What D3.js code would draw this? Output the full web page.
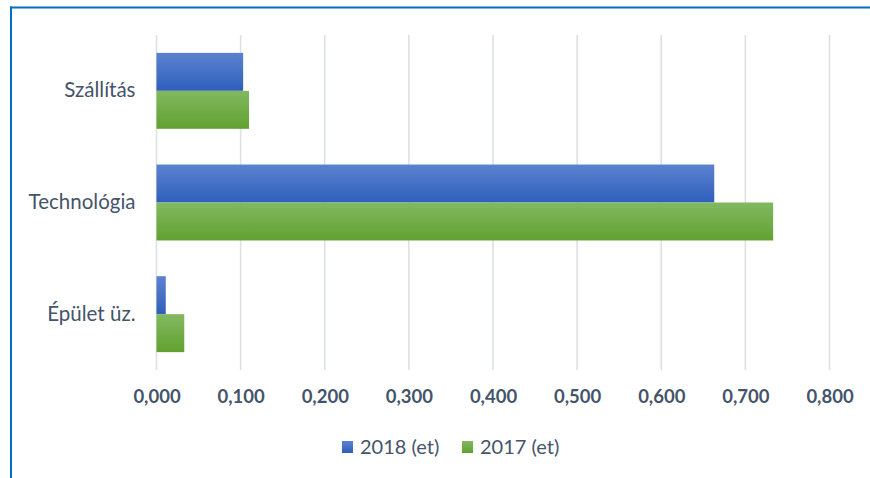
<!DOCTYPE html>
<html>
<head>
<meta charset="utf-8">
<script src="https://cdn.jsdelivr.net/npm/d3@7"></script>
<style>
  html, body { margin: 0; padding: 0; background: #fff; }
  svg { display: block; font-family: Lato, "Open Sans", sans-serif; }
</style>
</head>
<body>
<div id="chart"></div>
<script>
// data
const categories = ["Szállítás", "Technológia", "Épület üz."];
const seriesNames = ["2018 (et)", "2017 (et)"];
const values2018 = [0.103, 0.663, 0.011];
const values2017 = [0.110, 0.733, 0.033];
const tickValues = [0, 0.1, 0.2, 0.3, 0.4, 0.5, 0.6, 0.7, 0.8];

const width = 870, height = 478;
const margin = {top: 35, right: 40.5, bottom: 108, left: 156.5};
const textColor = "#44546a";

const svg = d3.select("#chart").append("svg")
    .attr("width", width).attr("height", height);

// gradients
const defs = svg.append("defs");
const grads = [
    {id: "gBlue", top: "#5b82cf", bottom: "#2f5fbc"},
    {id: "gGreen", top: "#82b961", bottom: "#61a130"}
];
grads.forEach(g => {
    const lg = defs.append("linearGradient").attr("id", g.id)
        .attr("x1", 0).attr("y1", 0).attr("x2", 0).attr("y2", 1);
    lg.append("stop").attr("offset", "0%").attr("stop-color", g.top);
    lg.append("stop").attr("offset", "100%").attr("stop-color", g.bottom);
});
const fills = ["url(#gBlue)", "url(#gGreen)"];

// frame (top + left blue border)
svg.append("line").attr("x1", 10).attr("x2", width).attr("y1", 7.5).attr("y2", 7.5)
    .attr("stroke", "#0070c0").attr("stroke-width", 2);
svg.append("line").attr("x1", 11).attr("x2", 11).attr("y1", 6.5).attr("y2", height)
    .attr("stroke", "#0070c0").attr("stroke-width", 2);

const x = d3.scaleLinear().domain([0, 0.8]).range([margin.left, width - margin.right]);
const y = d3.scaleBand().domain(categories)
    .range([margin.top, height - margin.bottom])
    .paddingInner(0.32).paddingOuter(0.16);
const ySub = d3.scaleBand().domain(seriesNames).range([0, y.bandwidth()]);

// gridlines
svg.append("g").selectAll("line").data(tickValues).join("line")
    .attr("x1", d => x(d)).attr("x2", d => x(d))
    .attr("y1", margin.top).attr("y2", height - margin.bottom)
    .attr("stroke", "#dde0e6").attr("stroke-width", 1.6);

// bars
const series = [values2018, values2017];
const rows = categories.map((c, i) => ({cat: c, vals: series.map(s => s[i])}));
const groups = svg.append("g").selectAll("g").data(rows).join("g")
    .attr("transform", d => `translate(0,${y(d.cat)})`);
groups.selectAll("rect").data(d => d.vals.map((v, j) => ({v, j}))).join("rect")
    .attr("x", x(0))
    .attr("y", d => ySub(seriesNames[d.j]))
    .attr("width", d => x(d.v) - x(0))
    .attr("height", ySub.bandwidth())
    .attr("fill", d => fills[d.j]);

// x axis labels
const fmt = d => d3.format(".3f")(d).replace(".", ",");
const xAxis = svg.append("g")
    .attr("transform", `translate(0,${height - margin.bottom})`)
    .call(d3.axisBottom(x).tickValues(tickValues).tickFormat(fmt).tickSize(0).tickPadding(20));
xAxis.select(".domain").remove();
xAxis.selectAll("text").attr("fill", textColor).attr("font-size", 18.5)
    .attr("font-weight", "bold").attr("font-family", "Lato, sans-serif");

// y axis labels
const yAxis = svg.append("g")
    .attr("transform", `translate(${margin.left},0)`)
    .call(d3.axisLeft(y).tickSize(0).tickPadding(21));
yAxis.select(".domain").remove();
yAxis.selectAll("text").attr("fill", textColor).attr("font-size", 20.5)
    .attr("font-family", "Lato, sans-serif");

// legend
const legendX = [342, 462];
const legend = svg.append("g").selectAll("g").data(seriesNames).join("g")
    .attr("transform", (d, i) => `translate(${legendX[i]},447)`);
legend.append("rect").attr("x", 0).attr("y", -6).attr("width", 11).attr("height", 12)
    .attr("fill", (d, i) => fills[i]);
legend.append("text").attr("x", 18).attr("dy", "0.35em")
    .attr("fill", textColor).attr("font-size", 20).text(d => d);
</script>
</body>
</html>
